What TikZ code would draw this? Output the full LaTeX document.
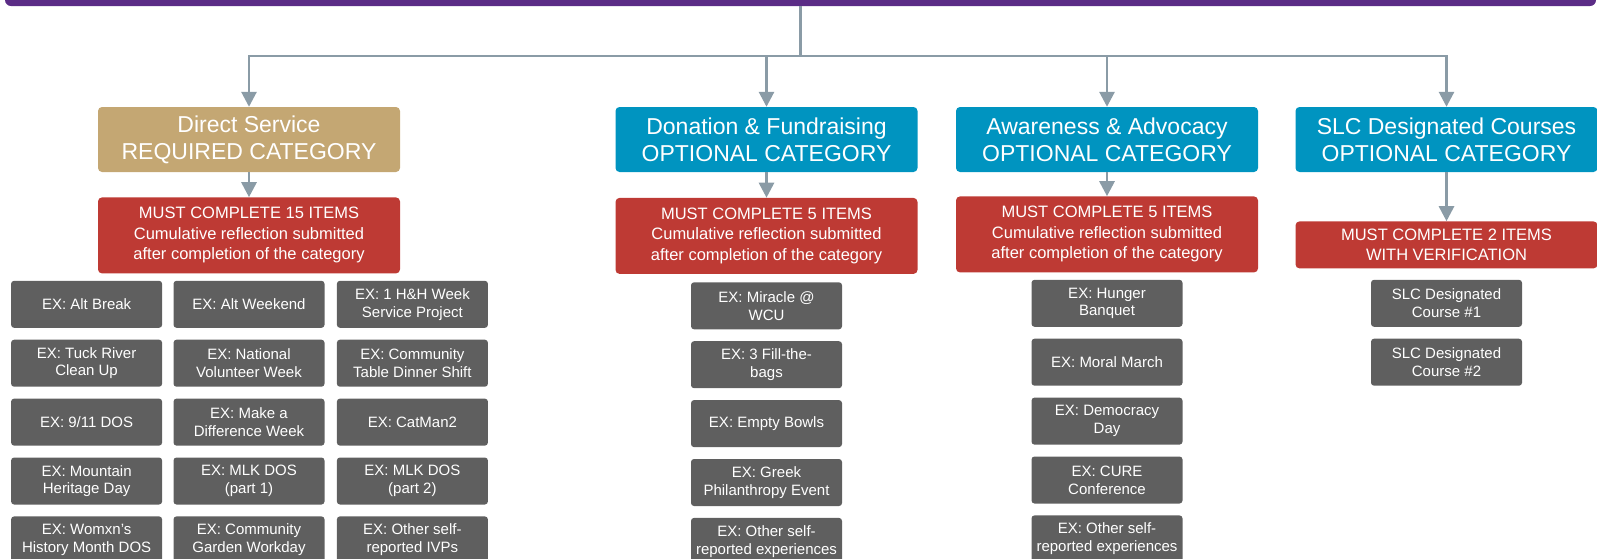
\documentclass[tikz,border=0pt]{standalone}
\usepackage{fontspec}
\setmainfont{Liberation Sans}
\usetikzlibrary{positioning, arrows.meta}

\definecolor{barpurple}{HTML}{5B2C86}
\definecolor{reqtan}{HTML}{C4A773}
\definecolor{opttea}{HTML}{0094C0}
\definecolor{mustred}{HTML}{BE3A34}
\definecolor{exgray}{HTML}{5F5F5F}
\definecolor{linegray}{HTML}{8A9BA6}

\begin{document}
\begin{tikzpicture}[x=1pt, y=-1pt,
      node distance=11.5pt and 11.5pt,
      bar/.style={rectangle, rounded corners=6pt, fill=barpurple, minimum width=1591pt, minimum height=26pt},
      cat/.style={rectangle, rounded corners=4pt, minimum width=302pt, minimum height=65pt, inner sep=0pt, text=white, align=center, font=\fontsize{23}{27}\selectfont},
      must/.style={rectangle, rounded corners=4pt, fill=mustred, minimum width=302pt, minimum height=76pt, inner sep=0pt, text=white, align=center, font=\fontsize{16.5}{20.5}\selectfont},
      ex/.style={rectangle, rounded corners=3pt, fill=exgray, minimum width=151pt, minimum height=47pt, inner sep=0pt, text=white, align=center, font=\fontsize{15}{17.7}\selectfont},
      conn/.style={draw=linegray, line width=2.8pt},
      arr/.style={conn, -{Triangle[width=15pt, length=15pt]}}]

      \clip (0,0) rectangle (1597,558);

      \node[bar] (bar) at (800.5,-7) {};
      \coordinate (hub) at (800.5,56);

      \node[cat, fill=reqtan] (direct) at (249,139.5) {Direct Service\\REQUIRED CATEGORY};
      \node[cat, fill=opttea] (donation) at (766.5,139.5) {Donation \& Fundraising\\OPTIONAL CATEGORY};
      \node[cat, fill=opttea] (awareness) at (1107,139.5) {Awareness \& Advocacy\\OPTIONAL CATEGORY};
      \node[cat, fill=opttea] (slc) at (1446.5,139.5) {SLC Designated Courses\\OPTIONAL CATEGORY};

      \node[must] (directmust) [below=25pt of direct] {MUST COMPLETE 15 ITEMS\\Cumulative reflection submitted\\after completion of the category};
      \node[must] (donationmust) [below=25.5pt of donation] {MUST COMPLETE 5 ITEMS\\Cumulative reflection submitted\\after completion of the category};
      \node[must] (awarenessmust) [below=24pt of awareness] {MUST COMPLETE 5 ITEMS\\Cumulative reflection submitted\\after completion of the category};
      \node[must, minimum height=47pt] (slcmust) [below=49pt of slc] {MUST COMPLETE 2 ITEMS\\WITH VERIFICATION};

      % direct service, middle column first
      \node[ex] (altweekend) [below=7pt of directmust] {EX: Alt Weekend};
      \node[ex] (altbreak) [left=11pt of altweekend] {EX: Alt Break};
      \node[ex] (hhweek) [right=12pt of altweekend] {EX: 1 H\&H Week\\Service Project};
      \node[ex] (nvweek) [below=of altweekend] {EX: National\\Volunteer Week};
      \node[ex] (tuckriver) [left=11pt of nvweek] {EX: Tuck River\\Clean Up};
      \node[ex] (commtable) [right=12pt of nvweek] {EX: Community\\Table Dinner Shift};
      \node[ex] (mdweek) [below=of nvweek] {EX: Make a\\Difference Week};
      \node[ex] (dos911) [left=11pt of mdweek] {EX: 9/11 DOS};
      \node[ex] (catman) [right=12pt of mdweek] {EX: CatMan2};
      \node[ex] (mlkone) [below=of mdweek] {EX: MLK DOS\\(part 1)};
      \node[ex] (mountain) [left=11pt of mlkone] {EX: Mountain\\Heritage Day};
      \node[ex] (mlktwo) [right=12pt of mlkone] {EX: MLK DOS\\(part 2)};
      \node[ex] (garden) [below=of mlkone] {EX: Community\\Garden Workday};
      \node[ex] (womxn) [left=11pt of garden] {EX: Womxn’s\\History Month DOS};
      \node[ex] (ivps) [right=12pt of garden] {EX: Other self-\\reported IVPs};

      % donation
      \node[ex] (miracle) [below=8pt of donationmust] {EX: Miracle @\\WCU};
      \node[ex] (fillbags) [below=of miracle] {EX: 3 Fill-the-\\bags};
      \node[ex] (bowls) [below=of fillbags] {EX: Empty Bowls};
      \node[ex] (greek) [below=of bowls] {EX: Greek\\Philanthropy Event};
      \node[ex] (donother) [below=of greek] {EX: Other self-\\reported experiences};

      % awareness
      \node[ex] (hunger) [below=7pt of awarenessmust] {EX: Hunger\\Banquet};
      \node[ex] (moral) [below=of hunger] {EX: Moral March};
      \node[ex] (democracy) [below=of moral] {EX: Democracy\\Day};
      \node[ex] (cure) [below=of democracy] {EX: CURE\\Conference};
      \node[ex] (awaother) [below=of cure] {EX: Other self-\\reported experiences};

      % slc
      \node[ex] (courseone) [below=11pt of slcmust] {SLC Designated\\Course \#1};
      \node[ex] (coursetwo) [below=of courseone] {SLC Designated\\Course \#2};

      \draw[conn] (bar.south) -- (hub);
      \draw[arr] (hub) -| (direct.north);
      \draw[arr] (hub) -| (donation.north);
      \draw[arr] (hub) -| (awareness.north);
      \draw[arr] (hub) -| (slc.north);

      \draw[arr] (direct) -- (directmust);
      \draw[arr] (donation) -- (donationmust);
      \draw[arr] (awareness) -- (awarenessmust);
      \draw[arr] (slc) -- (slcmust);
\end{tikzpicture}
\end{document}
